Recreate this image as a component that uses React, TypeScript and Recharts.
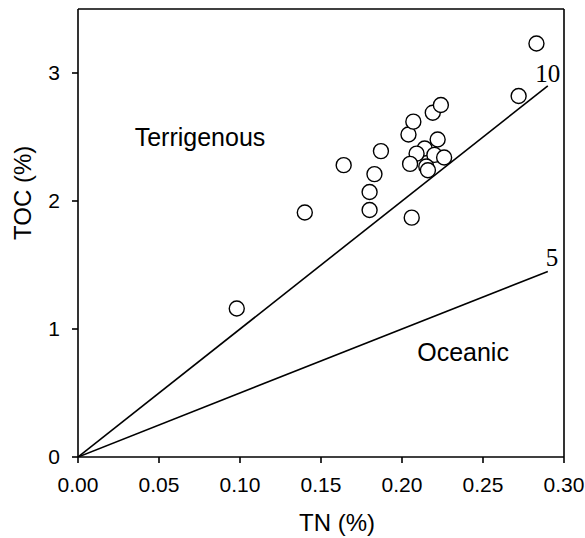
import React from "react";
import {
  ScatterChart,
  Scatter,
  XAxis,
  YAxis,
  ReferenceLine,
  ReferenceDot,
} from "recharts";

// TN (%) vs TOC (%) samples
const tnValues = [
  0.098, 0.14, 0.164, 0.18, 0.18, 0.183, 0.187, 0.204, 0.207, 0.219, 0.224,
  0.222, 0.214, 0.209, 0.22, 0.226, 0.205, 0.215, 0.216, 0.206, 0.272, 0.283,
];
const tocValues = [
  1.16, 1.91, 2.28, 1.93, 2.07, 2.21, 2.39, 2.52, 2.62, 2.69, 2.75, 2.48, 2.41,
  2.37, 2.36, 2.34, 2.29, 2.27, 2.24, 1.87, 2.82, 3.23,
];

// C/N ratio guide lines, from origin to TN = 0.29
const ratioLines = [10, 5];
const lineEndTN = 0.29;

const xTicks = [0, 0.05, 0.1, 0.15, 0.2, 0.25, 0.3];
const yTicks = [0, 1, 2, 3];

const samples = tnValues.map((tn, i) => ({ tn, toc: tocValues[i] }));
const lineData = ratioLines.map((r) => [
  { tn: 0, toc: 0 },
  { tn: lineEndTN, toc: r * lineEndTN },
]);

const sans = "Liberation Sans, Arial, sans-serif";
const serif = "Liberation Serif, Times New Roman, serif";

export default function App() {
  return (
    <div style={{ position: "absolute", left: 0, top: 0, background: "#fff" }}>
      <ScatterChart
        width={585}
        height={538}
        margin={{ top: 9, right: 21, left: 0, bottom: 0 }}
      >
        <XAxis
          type="number"
          dataKey="tn"
          domain={[0, 0.3]}
          ticks={xTicks}
          tickFormatter={(v: number) => v.toFixed(2)}
          height={81}
          stroke="#000"
          strokeWidth={1.6}
          tickSize={6}
          tickMargin={14}
          tick={{ fill: "#000", fontSize: 21, fontFamily: sans }}
          allowDataOverflow
          label={{
            value: "TN (%)",
            position: "insideBottom",
            offset: 7,
            dx: 16,
            fill: "#000",
            fontSize: 24,
            fontFamily: sans,
          }}
        />
        <YAxis
          type="number"
          dataKey="toc"
          domain={[0, 3.5]}
          ticks={yTicks}
          width={78}
          stroke="#000"
          strokeWidth={1.6}
          tickSize={6}
          tickMargin={12}
          tick={{ fill: "#000", fontSize: 21, fontFamily: sans }}
          allowDataOverflow
          label={{
            value: "TOC (%)",
            angle: -90,
            position: "insideLeft",
            offset: 22,
            dy: 7,
            fill: "#000",
            fontSize: 24,
            fontFamily: sans,
          }}
        />
        <ReferenceLine y={3.5} stroke="#000" strokeWidth={1.6} />
        <ReferenceLine x={0.3} stroke="#000" strokeWidth={1.6} />

        {lineData.map((d, i) => (
          <Scatter
            key={`ratio-${ratioLines[i]}`}
            data={d}
            line={{ stroke: "#000", strokeWidth: 1.6 }}
            shape={() => null}
            isAnimationActive={false}
          />
        ))}

        <Scatter
          data={samples}
          shape={(props: any) => (
            <circle
              cx={props.cx}
              cy={props.cy}
              r={7.5}
              fill="#fff"
              stroke="#000"
              strokeWidth={1.4}
            />
          )}
          isAnimationActive={false}
        />

        <ReferenceDot
          x={0.0753}
          y={2.5}
          r={0}
          label={{ value: "Terrigenous", position: "center", fill: "#000", fontSize: 25, fontFamily: sans }}
        />
        <ReferenceDot
          x={0.2377}
          y={0.82}
          r={0}
          label={{ value: "Oceanic", position: "center", fill: "#000", fontSize: 25, fontFamily: sans }}
        />
        <ReferenceDot
          x={0.29}
          y={3.0}
          r={0}
          label={{ value: "10", position: "center", fill: "#000", fontSize: 25, fontFamily: serif }}
        />
        <ReferenceDot
          x={0.2926}
          y={1.56}
          r={0}
          label={{ value: "5", position: "center", fill: "#000", fontSize: 25, fontFamily: serif }}
        />
      </ScatterChart>
    </div>
  );
}
